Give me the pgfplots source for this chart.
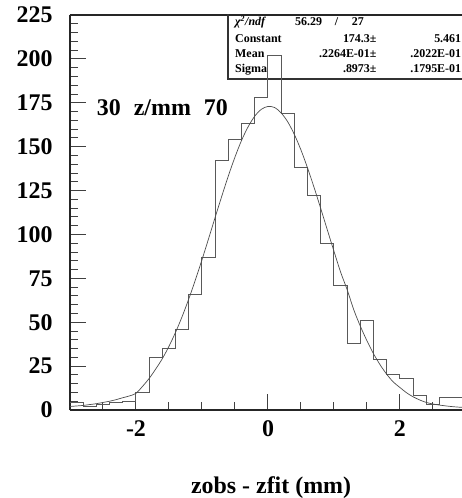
\documentclass[border=0pt]{standalone}
\usepackage{fontspec}
\setmainfont{Liberation Serif}
\usepackage{pgfplots}
\pgfplotsset{compat=1.18}

\begin{document}
\begin{tikzpicture}
\begin{axis}[
    scale only axis,
    width=392bp, height=395bp,
    xmin=-3, xmax=2.94,
    ymin=0, ymax=225,
    axis x line*=box, axis y line*=left,
    axis line style={black!85, line width=1.6pt},
    tick align=inside, tick pos=left,
    xtick={-2,0,2}, xticklabels={-2,0,2},
    minor xtick={-2.5,-1.5,-1,-0.5,0.5,1,1.5,2.5},
    ytick={0,25,...,225},
    yticklabels={0,25,50,75,100,125,150,175,200,225},
    minor y tick num=4,
    major tick length=16bp, minor tick length=8bp,
    every tick/.append style={black!75, line width=1pt},
    ticklabel style={font=\fontsize{24}{24}\selectfont\bfseries},
    yticklabel style={xshift=-14bp},
    xticklabel style={yshift=-7bp},
    xlabel={zobs - zfit (mm)},
    xlabel style={font=\fontsize{24}{24}\selectfont\bfseries,
        at={(axis description cs:0.513,0)}, anchor=base, yshift=-83bp},
]

% stats box
\draw[black!80, line width=1.2pt] (axis cs:-0.606,188.5) rectangle (axis cs:3.5,226);
\begin{scope}[every node/.style={font=\fontsize{12}{12}\selectfont\bfseries, inner sep=0pt}]
\node[anchor=base west] at (axis cs:-0.5,219) {\itshape χ\textsuperscript{2}/ndf};
\node[anchor=base west] at (axis cs:0.41,219) {56.29};
\node[anchor=base] at (axis cs:1.04,219) {/};
\node[anchor=base west] at (axis cs:1.27,219) {27};
\node[anchor=base west] at (axis cs:-0.5,209.5) {Constant};
\node[anchor=base east] at (axis cs:1.647,209.5) {174.3±};
\node[anchor=base east] at (axis cs:2.93,209.5) {5.461};
\node[anchor=base west] at (axis cs:-0.5,201) {Mean};
\node[anchor=base east] at (axis cs:1.647,201) {.2264E-01±};
\node[anchor=base east] at (axis cs:2.93,201) {.2022E-01};
\node[anchor=base west] at (axis cs:-0.5,192.5) {Sigma};
\node[anchor=base east] at (axis cs:1.647,192.5) {.8973±};
\node[anchor=base east] at (axis cs:2.93,192.5) {.1795E-01};
\end{scope}

\node[anchor=base west, inner sep=0pt, font=\fontsize{24}{24}\selectfont\bfseries]
    at (axis cs:-2.595,168) {30\hspace{13bp}z/mm\hspace{13bp}70};

% histogram, bin width 0.2
\addplot[black!65, line width=1pt, const plot] coordinates {
(-3.0,4) (-2.8,2) (-2.6,3) (-2.4,4) (-2.2,5)
(-2.0,10) (-1.8,30) (-1.6,35) (-1.4,46) (-1.2,66)
(-1.0,87) (-0.8,142) (-0.6,154) (-0.4,163) (-0.2,178)
(0.0,202) (0.2,169) (0.4,138) (0.6,122) (0.8,95)
(1.0,71) (1.2,38) (1.4,51) (1.6,29) (1.8,20)
(2.0,18) (2.2,8) (2.4,3) (2.6,7) (2.8,7) (3.0,7)
};

% gaussian fit
\addplot[black!70, line width=0.7pt, smooth] coordinates {
(-3.0,2.0) (-2.9,2.3) (-2.8,2.6) (-2.7,3.1) (-2.6,3.6) (-2.5,4.3)
(-2.4,5.0) (-2.3,5.9) (-2.2,7.0) (-2.1,8.0) (-2.0,9.5) (-1.9,13.5)
(-1.8,18.0) (-1.7,23.4) (-1.6,29.3) (-1.5,36.3) (-1.4,44.3) (-1.3,53.3)
(-1.2,63.3) (-1.1,74.1) (-1.0,85.6) (-0.9,97.6) (-0.8,109.8) (-0.7,121.8)
(-0.6,133.4) (-0.5,144.1) (-0.4,153.6) (-0.3,161.4) (-0.2,167.4) (-0.1,171.3)
(0.0,172.9) (0.1,172.3) (0.2,169.2) (0.3,164.1) (0.4,156.9) (0.5,148.1)
(0.6,137.8) (0.7,126.6) (0.8,114.7) (0.9,102.5) (1.0,90.4) (1.1,78.6)
(1.2,68.5) (1.3,57.1) (1.4,47.7) (1.5,39.4) (1.6,32.0) (1.7,25.7)
(1.8,20.3) (1.9,15.9) (2.0,12.8) (2.1,9.8) (2.2,7.5) (2.3,5.7)
(2.4,4.3) (2.5,3.4) (2.6,2.8) (2.7,2.3) (2.8,1.9) (2.9,1.6) (3.0,1.4)
};
\end{axis}
\pgfresetboundingbox
\path (current axis.south west) ++(-70bp,-88bp) rectangle ++(462bp,498bp);
\end{tikzpicture}
\end{document}
